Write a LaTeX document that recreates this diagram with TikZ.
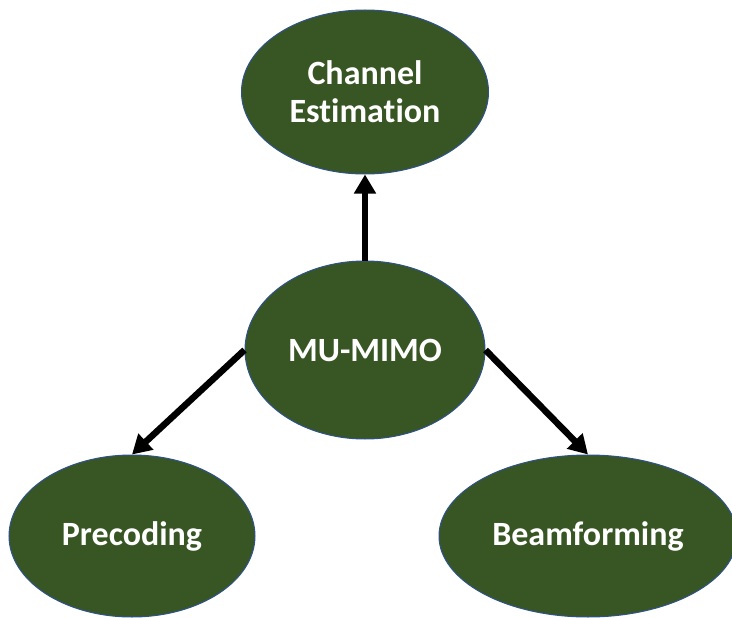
\documentclass[tikz,border=0pt]{standalone}
\usepackage{fontspec}
\setmainfont[Ligatures=NoCommon]{Carlito}
\usetikzlibrary{shapes.geometric,arrows.meta}
\definecolor{leaf}{HTML}{375623}
\definecolor{rim}{HTML}{2F528F}
\tikzset{
  topic/.style={ellipse, fill=leaf, draw=rim, line width=1pt, inner sep=0pt,
    text=white, font=\fontsize{34}{38}\selectfont\bfseries, align=center},
  link/.style={line width=6.5pt, -{Triangle[width=21pt,length=19pt]}}
}
\begin{document}
\begin{tikzpicture}[x=1pt,y=-1pt]
\useasboundingbox (0,0) rectangle (732,618);
\node[topic, minimum width=247pt, minimum height=164pt] (chan) at (365,92) {Channel\\Estimation};
\node[topic, minimum width=240pt, minimum height=178pt] (mimo) at (365,350) {MU-MIMO};
\node[topic, minimum width=246pt, minimum height=162pt] (prec) at (132,536) {Precoding};
\node[topic, minimum width=298pt, minimum height=162pt] (beam) at (588,536) {Beamforming};
\draw[link] (mimo.north) -- (chan.south);
\draw[link] (mimo.west) -- (prec.north);
\draw[link] (mimo.east) -- (beam.north);
\end{tikzpicture}
\end{document}
